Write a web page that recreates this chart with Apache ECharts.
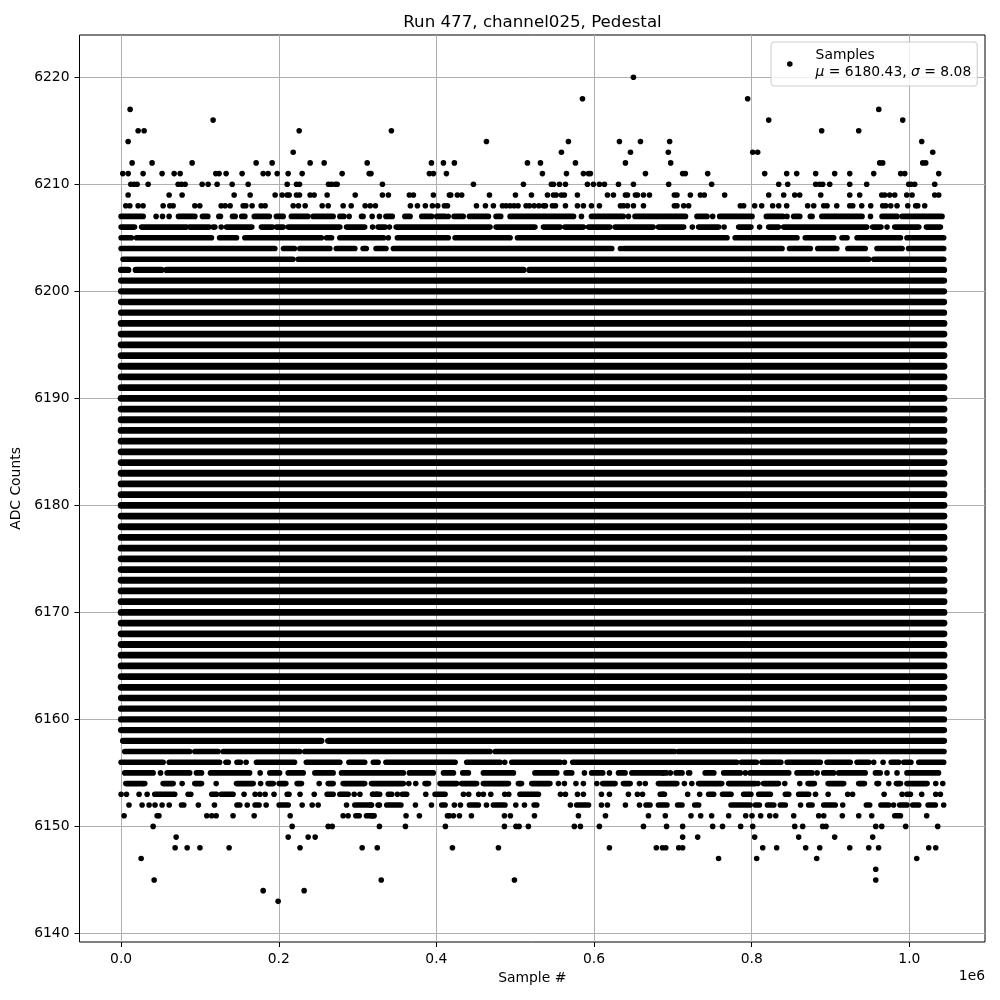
<!DOCTYPE html>
<html><head><meta charset="utf-8"><style>html,body{margin:0;padding:0;background:#fff}#c{width:1000px;height:1000px}</style>
<script src="https://cdn.jsdelivr.net/npm/echarts@6/dist/echarts.min.js"></script></head><body><div id="c"></div>
<script>
// All sample positions in thousands of samples.
const yTicks=[6140,6150,6160,6170,6180,6190,6200,6210,6220];
const xTicks=[0,200000,400000,600000,800000,1000000];
const solidLevels=[6159,6160,6161,6162,6163,6164,6165,6166,6167,6168,6169,6170,6171,6172,6173,6174,6175,6176,6177,6178,6179,6180,6181,6182,6183,6184,6185,6186,6187,6188,6189,6190,6191,6192,6193,6194,6195,6196,6197,6198,6199,6200,6201];
const solidExtent=[0,1044];
// isolated samples per ADC level
const pts6220=[650];
const pts6218=[585.3,794.9];
const pts6217=[11.4,961.2];
const pts6216=[116.7,821.6,991.6];
const pts6215=[21.6,29.2,225.9,342.9,888.8,935.8];
const pts6214=[8.9,463.5,567.5,632.2,658.9,695.9,1015.7];
const pts6213=[218.3,558.6,646.2,694.2,801.3,807.6,1029.7];
const pts6212=[14,39.3,90.1,171.3,191.6,239.8,257.6,312.2,393.7,408.9,422.8,515.5,532,576.4,639.8,697.2,962.4,966.2,1017,1020.8];
const pts6211=[2.1,9,27.9,52,67.3,74.9,120.1,124.3,133.2,153.5,180.2,186.5,198,211.9,229.7,280.4,314.7,317,391.1,396.2,412.7,534.5,565,586.5,592.9,595.4,665.2,712.4,715.8,744.2,816.5,844.4,857.1,881.2,905.3,924.4,954.8,989,994.2,1037.3];
const pts6210=[12.3,16.5,20.3,34.3,72.3,76.6,81.2,102.8,110.4,121.8,140.9,161.2,210.7,222.5,226.3,263.1,266.9,271.6,274.1,331.5,447,510.4,545.9,548.5,556.1,563.7,591.6,599.2,606.8,613.2,631,650,694.7,749.2,834.3,845.7,881.2,886.3,890.1,899,924.4,945.9,999.2,1002.2,1006.8,1032.2];
const pts6209=[8.9,60.9,77.4,143.4,163.7,195.4,204.3,210.7,213.2,222.5,226.3,239.8,244.9,261.4,297,331.5,339.1,365.7,370.8,396.2,416.5,418.2,426.6,432.1,467.3,500.3,520.6,540.9,548.5,551.9,558.6,562.4,578.9,617,624.6,639.8,642.4,652.5,655.1,662.7,670.3,701.9,705.2,722.2,734.9,739.9,765.7,821.6,840.6,854.6,860.9,887.6,924.4,937,965,968.8,975.1,981.5,996.7,1003.5,1032.2,1037.3];
const pts6208=[5.9,11,21.6,27.9,53.3,61.8,66,93.5,99.8,126.9,132,138.3,154.8,158.2,166.2,177.7,182.7,218.3,225,233.5,255.1,262.7,281.7,291.9,309.6,316,322.6,367,375.9,386,394.9,401.7,410.2,414,450.8,462.2,472.3,483.8,488.4,493.5,498.6,503.6,513.8,518,524,530,535.8,538.3,547.2,551,563.7,578.9,586.5,596.7,606.8,633.5,637.3,642.4,650,662.7,701.9,705.2,713.7,720,785.6,789.8,803.8,812.7,826.6,834.3,844.4,871,878.7,891.4,895.6,907.9,924.4,928.2,939.6,951,966.2,970,976.4,984.4,998,1008.1,1010.7,1019.5];
const pts6207=[44.4,52.5,60.9,289.3,318.5,327.7,415,584,643.6,750.5,844.8,950.7];
const pts6206=[127,319,340.4,724.7,765,810,971.7];
const pts6205=[339];
const pts6204=[633.5];
const pts6156=[158.6,486.7,562.4,954.8,966.7];
const pts6155=[50,176.4,587.8,619.5,687.5,696.8,792,883,971.7,984.4];
const pts6154=[77.4,120.6,177,251.3,365,373.8,554.8,562.4,577,586.5,603.5,657.6,665,714.6,724,808,842,861,973.9,1033.5,1042.4];
const pts6153=[0,6.8,22.8,33,85,88.4,156,170,176,182.7,194,210.7,213,227,245,295.7,303,319,324.4,350.5,386.5,434.3,441,453.6,459.6,469,486.7,491.8,557.4,563.7,579,586.5,609.4,619.5,643.6,655,661.5,687.5,718.8,734,881,897,921.8,928,968,990.8,1015.7,1033.5,1039.4];
const pts6152=[10,26.6,35.5,43,52,61,98,118.4,160,184,229.7,242.4,250,286,326,316.7,327.7,373.4,393.7,422.8,430.5,463.5,500.7,511.7,570,609.4,617,639.8,657.6,862,915.5,980,1043.6];
const pts6151=[3.8,45.7,48,108.7,115,120.6,142,168.8,214.5,281.7,288,318,321,361.5,378.4,414,416.5,421.6,429.2,444.4,486.3,493.9,524.4,580.2,614.5,669,690.4,723,735.3,749.2,770.8,792.4,800.4,811.4,822.9,830.5,853.3,885,891.4,915,935.8,952.3,1022];
const pts6150=[40.6,217,262.7,267.8,327.7,360.7,411.4,486.3,501,504.9,516.7,575,582.7,606.8,662.7,692,712.4,750.5,763,786,801.3,854.6,864.7,890,894.3,957.4,965,995.4,1036];
const pts6149=[69.8,212,237.3,246.2,712.4,731.5,803.8,859.6,905.3,953.5];
const pts6148=[68.5,83.8,100,137,227,305.8,325,420.3,478.7,619.5,679,686.8,691,707.4,712.4,814,831.7,868.5,886.3,924.4,948.5,961,1024.6,1033.5];
const pts6147=[25.4,758,806.3,882.5,1009.4];
const pts6146=[957.4];
const pts6145=[41.9,330,499,957.4];
const pts6144=[180.2,232.2];
const pts6143=[199.2];
// stretches of overlapping samples per ADC level, as start,end pairs
const runs6207=[0,28,72.8,93.5,103.2,110,124,126,141.3,144.7,153,157,169,188,197,205.6,216,237,243.6,269,277.5,282.6,305,307,336,344,360,366.6,381.4,394,400.4,411,422.4,434,441.9,466,475.7,481.6,493.5,574,596.7,637,652,677.5,680,716,730.6,743.3,759.4,800.4,818.6,839.8,853.3,861,874.4,876.6,889,940,965.4,984.4,990.8,1041.5];
const runs6206=[0,17,26,83,87,111.7,116.7,119,133.7,165.8,178,192,197,205.6,212,277.5,286,309,326,335,349,468,475.7,525,535.8,557,563,586.5,593,620,626.7,675,681.7,713.7,732.7,758,783.5,799,821.6,834,840.6,946,953.5,964,981.5,1012,1021.7,1039.4];
const runs6205=[0,13,19.5,114.6,125,146.4,157,254,260.6,267,277.5,333,350.5,415,423.7,493.5,502.8,768.7,779,857.5,868,904,914.6,921,933.7,988.7,997,1043.6];
const runs6204=[0,195,206,220,226.7,264.8,273,296.5,307,311,323.4,336,345.4,622.5,637.3,838.5,848,874.4,883.8,908,922,944,959,990.8,999,1043.6];
const runs6203=[2.5,218,224.6,948.5,955,1043.6];
const runs6202=[0,9,18.6,51,57.5,510.4,518,1044];
const runs6158=[2.5,254,262.7,1044];
const runs6157=[4.6,87,93.5,123,129.4,226.7,233,468,474.5,702,707,1044];
const runs6156=[0,53.3,61,125,133,136,147,151.4,171.7,220,235,277.5,289,309,320,326,336,423.7,438.5,480.8,495.6,557,573,781,787,806,813,837,845,887,895.6,925,933.7,948.5,977,986.5,993,1002,1012,1043.6];
const runs6155=[4.6,40.6,58.4,87,95.6,102,113.4,163,188.7,201,212,231,245.8,269,279.6,358,365.7,396,409,421.6,433.4,440.6,459.6,497.7,525,552.7,564.5,571.7,597,611,631,639.4,648,692,704,711.6,720,721.3,741,752,764.5,785.6,798,847,857.5,876.6,891.4,904,910.4,944,957,963,997,1037];
const runs6154=[6,30,53.3,66,93.5,102,146.4,167.5,186.5,193,200.5,209,223.3,228.8,262.7,269,281.7,309,317.7,358,385.6,390,404.6,425.8,432,451,459.6,491.4,504,508,521,544,611,626.7,637.3,645.8,681.7,705,732.7,762,770.8,804.7,815,834,871.5,879.5,897,916.7,935.8,943,959,961,983.6,988.7,997,1022.5];
const runs6153=[42.7,68,115,121,127,142,261.4,269,277.5,288,320,328,339,343.3,356.8,362.3,398.3,411,506,529.4,684,689.3,745.4,751.8,763,773.8,789.8,799,808.9,823.7,842.7,847,859.6,872.3,997,1001.4];
const runs6152=[76.6,79.5,147,150.6,170,175,200.5,212,296.5,317.7,337,355,406.8,411,441.9,453.3,472.3,487,524,527.3,578,593,666,671,681.7,692.5,706,711.6,727.7,732.7,773.8,798,804.7,809.7,820,828,836.4,842.7,872.3,876.6,891.4,906,945.5,949.7,964,973.9,987.8,997,1004.3,1012,1023.8,1033];
const runs6151=[297.8,302,311.3,319.8,981.5,988.7];
const levelPts=[[6220,pts6220],[6218,pts6218],[6217,pts6217],[6216,pts6216],[6215,pts6215],[6214,pts6214],[6213,pts6213],[6212,pts6212],[6211,pts6211],[6210,pts6210],[6209,pts6209],[6208,pts6208],[6207,pts6207],[6206,pts6206],[6205,pts6205],[6204,pts6204],[6156,pts6156],[6155,pts6155],[6154,pts6154],[6153,pts6153],[6152,pts6152],[6151,pts6151],[6150,pts6150],[6149,pts6149],[6148,pts6148],[6147,pts6147],[6146,pts6146],[6145,pts6145],[6144,pts6144],[6143,pts6143]];
const levelRuns=[[6207,runs6207],[6206,runs6206],[6205,runs6205],[6204,runs6204],[6203,runs6203],[6202,runs6202],[6158,runs6158],[6157,runs6157],[6156,runs6156],[6155,runs6155],[6154,runs6154],[6153,runs6153],[6152,runs6152],[6151,runs6151]];
solidLevels.forEach(l=>levelRuns.push([l,solidExtent]));

const pointData=[];levelPts.forEach(([l,a])=>a.forEach(k=>pointData.push([k*1000,l])));
const runData=[];levelRuns.forEach(([l,a])=>{for(let i=0;i<a.length;i+=2)runData.push([a[i]*1000,a[i+1]*1000,l]);});
// stroke thickness: overlapping dots fill out slightly more where they are densest
const strokeFor=l=>(l>=6163&&l<=6197)?6.8:(l>=6158&&l<=6202)?6.3:5.6;

const font='"DejaVu Sans"';
const chart=echarts.init(document.getElementById('c'),null,{renderer:'canvas'});
chart.setOption({
 animation:false,
 backgroundColor:'#fff',
 textStyle:{fontFamily:font},
 title:{text:'Run 477, channel025, Pedestal',left:527.5,top:9,textAlign:'center',textStyle:{fontFamily:font,fontSize:16.67,fontWeight:'normal',color:'#000'}},
 grid:{left:79.5,top:35,width:905.5,height:907,show:true,borderColor:'#000',borderWidth:1,backgroundColor:'#fff',containLabel:false},
 legend:{data:['Samples'],left:771,top:42,orient:'vertical',padding:[5,6,5,16],itemWidth:5.6,itemHeight:5.6,backgroundColor:'rgba(255,255,255,0.8)',borderColor:'#ccc',borderWidth:1,borderRadius:3,
  formatter:()=>'Samples\n{i|μ} = 6180.43, {i|σ} = 8.08',
  textStyle:{fontFamily:font,fontSize:13.89,color:'#000',lineHeight:17,padding:[0,0,0,18],rich:{i:{fontFamily:font,fontStyle:'italic',fontSize:13.89,color:'#000'}}}},
 xAxis:{type:'value',min:-52800,max:1096000,name:'Sample #',nameLocation:'middle',nameGap:29,nameTextStyle:{fontFamily:font,fontSize:13.89,color:'#000'},
  axisLine:{show:false,onZero:false},axisTick:{show:true,length:5,lineStyle:{color:'#000',width:1},customValues:xTicks},
  axisLabel:{show:true,customValues:xTicks,color:'#000',fontFamily:font,fontSize:13.89,margin:10,formatter:v=>(v/1e6).toFixed(1)},
  splitLine:{show:true,lineStyle:{color:'#b0b0b0',width:1}}},
 yAxis:{type:'value',min:6139.2,max:6223.95,name:'ADC Counts',nameLocation:'middle',nameGap:53,nameTextStyle:{fontFamily:font,fontSize:13.89,color:'#000'},
  axisLine:{show:false,onZero:false},axisTick:{show:true,length:5,lineStyle:{color:'#000',width:1},customValues:yTicks},
  axisLabel:{show:true,customValues:yTicks,color:'#000',fontFamily:font,fontSize:13.89,margin:10,padding:[2,0,0,0],formatter:v=>String(v)},
  splitLine:{show:true,lineStyle:{color:'#b0b0b0',width:1}}},
 graphic:[{type:'text',right:15,top:969,silent:true,style:{text:'1e6',fontFamily:font,fontSize:13.89,fill:'#000'}}],
 series:[
  {type:'custom',name:'Dense samples',silent:true,data:runData,encode:{x:[0,1],y:2},
   renderItem:(p,api)=>{const a=api.coord([api.value(0),api.value(2)]),b=api.coord([api.value(1),api.value(2)]);
    return {type:'line',shape:{x1:a[0],y1:a[1],x2:b[0],y2:b[1]},style:{stroke:'#000',lineWidth:strokeFor(api.value(2)),lineCap:'round',fill:null}};}},
  {type:'scatter',name:'Samples',silent:true,data:pointData,symbol:'circle',symbolSize:5.6,itemStyle:{color:'#000',opacity:1}}
 ]
});
</script></body></html>
